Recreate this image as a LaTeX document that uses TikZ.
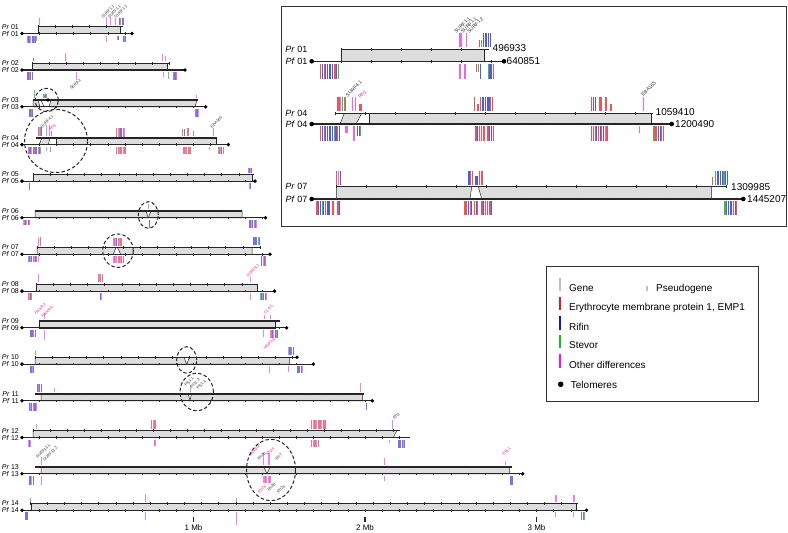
\documentclass[tikz,border=0pt]{standalone}
\usepackage{fontspec}
\setmainfont{Liberation Sans}
\definecolor{cE}{RGB}{236,118,128}
\definecolor{cR}{RGB}{112,118,226}
\definecolor{cS}{RGB}{110,192,110}
\definecolor{cM}{RGB}{236,130,236}
\definecolor{dE}{RGB}{228,88,92}
\definecolor{dR}{RGB}{80,90,218}
\definecolor{dS}{RGB}{80,180,80}
\definecolor{dM}{RGB}{232,105,232}
\definecolor{cG}{RGB}{192,192,192}
\definecolor{tM}{RGB}{228,40,150}
\definecolor{boxg}{RGB}{221,221,221}
\definecolor{LE}{RGB}{225,25,25}
\definecolor{LR}{RGB}{20,20,215}
\definecolor{LS}{RGB}{30,185,30}
\definecolor{LM}{RGB}{240,20,240}
\newcommand\gBars[4]{\foreach \cc [count=\ii from 0] in {#4}{\draw[bar,draw=c\cc] ({#1+\ii*1.25},#2) -- ({#1+\ii*1.25},#3);}}
\newcommand\iBars[4]{\foreach \cc [count=\ii from 0] in {#4}{\draw[ibar,draw=d\cc] ({#1+\ii*1.7},#2) -- ({#1+\ii*1.7},#3);}}
\newcommand\gTicks[4]{\pgfmathtruncatemacro{\ntk}{(#2-#1)/#4}\foreach \kk in {0,...,\ntk}{\draw[tck] ({#1+\kk*#4},{#3-1.3}) -- ({#1+\kk*#4},{#3+1.3});}}
\newcommand\gChr[3]{\draw[chr] (#1,#3) -- (#2,#3); \gTicks{#1}{#2}{#3}{17.15}}
\newcommand\iChr[3]{\draw[ichr] (#1,#3) -- (#2,#3); \gTicks{#1}{#2}{#3}{30}}
\newcommand\gPoly[6]{\filldraw[gbox] (#1,#5) -- (#2,#5) -- (#3,#6) -- (#4,#6) -- cycle;}
\newcommand\gTel[2]{\fill[black] (#1,#2) circle (1.9pt);}
\newcommand\iTel[2]{\fill[black] (#1,#2) circle (2.3pt);}
\begin{document}
\begin{tikzpicture}[x=1pt,y=-1pt,
  chr/.style={line width=1.15pt, draw=black!85},
  ichr/.style={line width=1.2pt, draw=black!85},
  tck/.style={line width=0.45pt, draw=black!85},
  gbox/.style={fill=boxg, draw=black!85, line width=0.5pt},
  bar/.style={line width=0.7pt},
  ibar/.style={line width=1.05pt},
  circ/.style={draw=black!85, line width=1pt, dash pattern=on 3.5pt off 2.2pt},
  lab/.style={font=\fontsize{7}{7}\selectfont, anchor=east, inner sep=0pt},
  ilab/.style={font=\fontsize{9}{9}\selectfont, anchor=east, inner sep=0pt},
  num/.style={font=\fontsize{10}{10}\selectfont, anchor=west, inner sep=0pt},
  gk/.style={font=\fontsize{4}{4}\selectfont, rotate=45, inner sep=0pt, text=black!80},
  gm/.style={gk, text=tM},
  gki/.style={font=\fontsize{5}{5}\selectfont, rotate=45, inner sep=0pt, text=black!80},
  gmi/.style={gki, text=tM},
  leg/.style={font=\fontsize{10}{10}\selectfont, anchor=base west, inner sep=0pt},
  lbar/.style={line width=2.3pt},
  ax/.style={font=\fontsize{8}{8}\selectfont, inner sep=0pt}
]
\useasboundingbox (0,0) rectangle (788,533);
\fill[white] (0,0) rectangle (788,533);

% ---------- row labels ----------
\foreach \n/\y in {01/26.7,02/63.2,03/100,04/138,05/174.3,06/211,07/247.5,08/284.3,09/321,10/357.3,11/394,12/430.7,13/467,14/503.5}{
  \node[lab] (pr\n) at (19,\y) {\textit{Pr} \n};
  \node[lab] (pf\n) at (19,\y+6.8) {\textit{Pf} \n};
}

% ---------- row 1 ----------
\gPoly{38}{120}{120}{38}{26.7}{33.5}
\gChr{38}{123}{26.7}
\gChr{22}{131.9}{33.5}
\gTel{22}{33.5}\gTel{131.9}{33.5}
\gBars{39.3}{18}{24.5}{M}
\gBars{106.7}{17}{24.5}{M}\gBars{110}{17}{24.5}{M}\gBars{115}{18}{24.5}{M}
\gBars{119.5}{18}{24.5}{R,E,R,R}
\gBars{27}{35.5}{43}{E,R,R,M,R,R,E,R}\gBars{36.5}{35.5}{41}{S}
\gBars{106.7}{35.5}{42}{M}\gBars{117}{35.5}{40}{E,R}\gBars{123}{35.5}{42}{R,S,R}
\node[gk,anchor=west] (g1a) at (102,17.5) {SURF1.1};
\node[gk,anchor=west] (g1b) at (108.5,17.5) {SURF1.1};
\node[gk,anchor=west] (g1c) at (115,17.5) {SURF1.2};

% ---------- row 2 ----------
\gPoly{32}{167}{167}{32}{63.2}{70}
\gChr{32}{170}{63.2}
\gChr{22}{185}{70}
\gTel{22}{70}\gTel{185}{70}
\gBars{33.3}{58}{61.2}{R}\gBars{65}{53}{61.2}{M}\gBars{162.3}{54}{61.2}{M}\gBars{165.7}{56}{61.2}{M}
\gBars{27}{72}{80}{R,R,E,R,R}\gBars{76}{72}{80}{M}\gBars{163}{72}{77}{M}\gBars{168}{72}{79}{S}\gBars{173}{72}{80}{E,R,R,E}
\node[gk,anchor=east] (g2a) at (80,79.5) {SERA3};

% ---------- row 3 ----------
\gPoly{33}{38}{40}{33}{100}{106.8}
\draw[tck] (41,100) -- (44,106.8);
\gPoly{51}{197}{195}{49}{100}{106.8}
\gChr{33}{198}{100}
\gChr{22}{205.6}{106.8}
\gTel{48}{100}
\gTel{22}{106.8}\gTel{205.6}{106.8}
\gBars{34.3}{90}{98}{S}\gBars{43}{94}{98}{E,S,R,S}\gBars{196.7}{95}{98}{M}
\gBars{29}{109}{116.7}{R,R,E,R}\gBars{195}{109}{117}{E,R,R,M}

% ---------- row 4 ----------
\gPoly{41.7}{50}{48.3}{39.3}{138}{144.6}
\gPoly{56}{216.7}{216.7}{56}{138}{144.6}
\gChr{36}{217}{138}
\gChr{22}{228.3}{144.6}
\gTel{22}{144.6}\gTel{228.3}{144.6}
\gBars{38}{127}{136}{E,M,S,R}\gBars{46.7}{125}{136}{M}\gBars{49.3}{125}{136}{M}\gBars{51.7}{131}{136}{E}
\gBars{116.7}{128}{136.5}{E,M,E,R,R,E,M}
\gBars{182.7}{129}{136}{E,R}\gBars{187}{128}{136}{E,E}\gBars{193}{131}{136}{E}
\gBars{213.3}{128}{136}{M}
\gBars{28}{146.6}{153.5}{E,R,R,M,R,E,R,R,E,R,S}\gBars{46.7}{146.6}{151}{M}\gBars{50.7}{146.6}{152}{S}
\gBars{116.7}{146.6}{153.5}{E,E,M,E,E,M,E,E}\gBars{183}{146.6}{153.5}{E,E,M,E,E,E,E}
\gBars{209.3}{146.6}{150}{M}\gBars{218}{146.6}{153.5}{S,E,M,R,E}
\node[gk,anchor=west] (g4a) at (41,127.5) {SURF4.1};
\node[gm,anchor=west] (g4b) at (50,130) {Rh1};
\node[gk,anchor=west] (g4c) at (211,127.5) {EBA165};

% ---------- row 5 ----------
\gPoly{33}{252.5}{252.5}{33}{174.3}{181.1}
\gChr{33}{254}{174.3}
\gChr{22}{255}{181.1}
\gTel{22}{181.1}\gTel{255}{181.1}
\gBars{248}{168}{172.5}{E,R,M,R}
\gBars{29.3}{183}{190}{R}\gBars{249.3}{183}{189}{M,R}

% ---------- row 6 ----------
\gPoly{35}{146}{148.3}{35}{211}{217.8}
\gPoly{151}{242}{242}{148.3}{211}{217.8}
\gChr{35}{242}{211}
\gChr{22}{265.5}{217.8}
\gTel{22}{217.8}\gTel{265.5}{217.8}
\gBars{148.3}{204}{209}{M}
\gBars{23}{219.8}{225}{M,E,R,M,R,E}\gBars{149.3}{219.8}{228}{R}\gBars{249}{219.8}{228}{R,R,M,R,E,R,M}

% ---------- row 7 ----------
\gPoly{37}{116}{113.3}{37}{247.5}{254.3}
\gPoly{117.5}{252}{252}{120.7}{247.5}{254.3}
\gChr{37}{260}{247.5}
\gChr{22}{270}{254.3}
\gTel{22}{254.3}\gTel{270}{254.3}
\gBars{38.7}{237}{245.5}{M,E}\gBars{113}{238}{245.5}{M,E,M,R,E,M,E,E}\gBars{253}{237}{245}{R,R,R,R,S,R}
\gBars{28}{256.3}{262}{S,R,M,R,E,M,R,E,M}\gBars{113}{256.3}{263}{M,E,M,M,E,E,M,E,E}\gBars{261.7}{256.3}{266}{R,M,R,E}

% ---------- row 8 ----------
\gPoly{36}{257}{257}{36}{284.3}{291.1}
\gChr{36}{258}{284.3}
\gChr{22}{274.5}{291.1}
\gTel{22}{291.1}\gTel{274.5}{291.1}
\gBars{38.7}{274}{282.3}{M}\gBars{98.3}{274}{282.3}{E,M,E,E}\gBars{250.7}{277}{282.3}{M}
\gBars{28}{293}{300}{E,M,R,E}\gBars{100}{293}{300}{R,M}\gBars{250.7}{293}{300}{M}\gBars{260}{293}{300}{S,R,S,R,R,M}
\node[gm,anchor=west] (g8a) at (247,276.5) {SURF8.2};

% ---------- row 9 ----------
\gPoly{39}{275}{275}{39}{321}{327.8}
\gChr{39}{280}{321}
\gChr{22}{286.6}{327.8}
\gTel{22}{327.8}\gTel{286.6}{327.8}
\gBars{44.3}{312.7}{319}{M}\gBars{264}{315}{319}{M}\gBars{270.7}{315}{319}{M}
\gBars{30}{329.8}{337}{R,R,R,E,R}\gBars{44.3}{329.8}{340}{M}\gBars{263.3}{329.8}{337}{M}\gBars{270}{329.8}{338}{M,E,R,M,R,E,R}
\node[gm,anchor=west] (g9a) at (35,314) {FIKK9.2};
\node[gm,anchor=west] (g9b) at (42,317) {FIKK9.5};
\node[gm,anchor=west] (g9c) at (264.5,313.5) {CLAG};
\node[gm,anchor=east] (g9d) at (274.5,338.5) {MSP3.8};

% ---------- row 10 ----------
\gPoly{35}{184}{186.7}{35}{357.3}{364.1}
\gPoly{189.5}{289.3}{289.3}{186.7}{357.3}{364.1}
\gChr{35}{297}{357.3}
\gChr{22}{313.3}{364.1}
\gTel{297}{357.3}
\gTel{22}{364.1}\gTel{313.3}{364.1}
\gBars{35}{350.7}{355.3}{S}\gBars{288}{346.7}{355.3}{M,R,R,S,R}
\gBars{30}{366.1}{372.7}{R,R,M,R}\gBars{269.3}{366.1}{373.3}{M}\gBars{288.3}{366.1}{372}{M}\gBars{297.3}{366.1}{373}{R,R,R,R,M}

% ---------- row 11 ----------
\gPoly{41}{188.3}{190}{41}{394}{400.8}
\gPoly{191.5}{362.7}{362.7}{190}{394}{400.8}
\gChr{35}{364}{394}
\gChr{22}{372.3}{400.8}
\gTel{22}{400.8}\gTel{372.3}{400.8}
\gBars{37.3}{384}{392}{R,E,R,R}\gBars{54.3}{388}{392}{M}\gBars{190}{385}{392}{M}\gBars{360.7}{383.3}{392}{M}
\gBars{29.3}{402.8}{410.7}{R,M,R,E,R,R,M}\gBars{366.7}{402.8}{410}{R}
\node[gk,anchor=west] (g11a) at (185,386) {Pf11.1};
\node[gk,anchor=west] (g11b) at (191,387.5) {Pf11.2};
\node[gk,anchor=west] (g11c) at (197,389) {Pf11.3};

% ---------- row 12 ----------
\gPoly{33}{396.7}{393.3}{33}{430.7}{437.5}
\gChr{33}{400}{430.7}
\gChr{22}{410}{437.5}
\gTel{22}{437.5}
\gBars{36}{424}{428.7}{M}\gBars{151.7}{420}{428.7}{E,M,E,E}\gBars{311.7}{420}{428.7}{E,M,E,E,M,E,E,E,M,E,E,E}\gBars{392.3}{420}{428.7}{M}
\gBars{28}{439.5}{446.7}{M,R,M}\gBars{154}{439.5}{446}{E,M}\gBars{311.7}{439.5}{446.7}{E,M,E,E,M,E}\gBars{389.3}{439.5}{443}{M}\gBars{398.3}{439.5}{448.3}{R,R,R,R,M,R}
\node[gk,anchor=west] (g12a) at (393.5,419) {Rh3};
\node[gk,anchor=west] (g12b) at (36.5,458) {SURF13.1};
\node[gk,anchor=west] (g12c) at (43.5,460.5) {SURF13.2};

% ---------- row 13 ----------
\gPoly{41}{264}{267}{41}{467}{473.8}
\gPoly{270}{509.3}{509.3}{267}{467}{473.8}
\gChr{35}{511.7}{467}
\gChr{22}{522.7}{473.8}
\gTel{22}{473.8}\gTel{522.7}{473.8}
\gBars{41.7}{456.7}{465}{M}\gBars{263.3}{453}{465}{M}\gBars{268.3}{453}{465}{M,M}\gBars{384.3}{458}{465}{M}\gBars{505.7}{460.7}{465}{M}
\gBars{29.3}{475.8}{485}{R,R,M,R}\gBars{41.7}{475.8}{485}{M}\gBars{263}{475.8}{483}{M,M,E,M,M,E,M}\gBars{384.3}{475.8}{481}{M}\gBars{510}{475.8}{485}{R,R,R}
\node[gm,anchor=west] (g13a) at (249.5,456) {MSRP2};
\node[gk,anchor=west] (g13b) at (258,459.5) {Rh2b};
\node[gm,anchor=west] (g13c) at (266.5,455) {Rh2a};
\node[gk,anchor=west] (g13d) at (276,459.5) {Rh7};
\node[gm,anchor=east] (g13e) at (265.5,485.5) {Rh2a};
\node[gk,anchor=east] (g13f) at (275,483.5) {Rh2b};
\node[gk,anchor=east] (g13g) at (284.5,485.5) {Rh2a};
\node[gm,anchor=west] (g13h) at (503,455) {EBL1};

% ---------- row 14 ----------
\gPoly{31.7}{576}{576}{31.7}{503.5}{510.3}
\gChr{30}{578}{503.5}
\gChr{22}{586.5}{510.3}
\gTel{22}{510.3}\gTel{586.5}{510.3}
\gBars{30}{498}{501.5}{S}\gBars{145.7}{494}{501.5}{M}\gBars{236.7}{498}{501.5}{M}\gBars{555}{495}{501.5}{M,M}\gBars{573.3}{495}{501.5}{M,M}
\gBars{25}{512.3}{520}{R,R,R}\gBars{145.7}{512.3}{520}{M}\gBars{236.7}{512.3}{525}{M}\gBars{555}{512.3}{517}{M}\gBars{573.3}{512.3}{517}{M}\gBars{581.7}{512.3}{520}{R,R,S}

% ---------- dashed circles ----------
\draw[circ] (46.7,100) ellipse [x radius=11.7pt, y radius=11.7pt];
\draw[circ] (56,141) ellipse [x radius=31.5pt, y radius=31.5pt];
\draw[circ] (148.3,215) ellipse [x radius=10pt, y radius=13.3pt];
\draw[circ] (118,250.7) ellipse [x radius=15.3pt, y radius=16.7pt];
\draw[circ] (186.7,360) ellipse [x radius=10pt, y radius=13.3pt];
\draw[circ] (196.7,392) ellipse [x radius=16.7pt, y radius=18.7pt];
\draw[circ] (271,470) ellipse [x radius=24.5pt, y radius=30.7pt];

% ---------- axis ----------
\foreach \xx/\t in {193.5/1,365/2,536.5/3}{
  \draw[line width=1.4pt, black!85] (\xx,516.5) -- (\xx,521.7);
  \node[ax] (mb\t) at (\xx,527.8) {\t\ Mb};
}

% ---------- inset ----------
\draw[line width=1pt, black!80] (281,6.5) rectangle (786,226.5);
% inset row 01
\node[ilab] (ipr01) at (307.5,49.3) {\textit{Pr} 01};
\node[ilab] (ipf01) at (307.5,61.3) {\textit{Pf} 01};
\gPoly{341.7}{484}{484}{341.7}{49.3}{61.3}
\iChr{341.7}{489.3}{49.3}
\iChr{311.7}{504}{61.3}
\iTel{311.7}{61.3}\iTel{504}{61.3}
\node[num] (n1a) at (492.5,48.5) {496933};
\node[num] (n1b) at (506.5,61.3) {640851};
\iBars{460}{33}{47.3}{M,M}\iBars{466.7}{33}{47.3}{M}\iBars{479.5}{40}{47.3}{E,S}\iBars{483.5}{33}{47.3}{R,R,R,R,R}
\iBars{320.7}{64}{79.3}{E,R,E,R,R,R,R,R}\iBars{335}{64}{79.3}{E,R,S}\iBars{460}{64}{79.3}{M}\iBars{465}{64}{79.3}{M}
\iBars{476.7}{64}{72}{E,S}\iBars{480.5}{64}{79.3}{R}\iBars{488.3}{64}{79.3}{S,R,R,E}
\node[gki,anchor=west] (i1a) at (455,32.5) {SURF1.1};
\node[gki,anchor=west] (i1b) at (461.5,32.5) {SURF1.1};
\node[gki,anchor=west] (i1c) at (468,32.5) {SURF1.2};
% inset row 04
\node[ilab] (ipr04) at (307.5,113.3) {\textit{Pr} 04};
\node[ilab] (ipf04) at (307.5,124) {\textit{Pf} 04};
\gPoly{344.3}{361.7}{356}{340}{113.3}{124}
\gPoly{369.3}{651.7}{651.7}{369.3}{113.3}{124}
\iChr{335}{652.8}{113.3}
\iChr{311.7}{671.7}{124}
\iTel{311.7}{124}\iTel{671.7}{124}
\node[num] (n4a) at (655.5,112.5) {1059410};
\node[num] (n4b) at (675,124) {1200490};
\iBars{337.3}{96.7}{111.3}{E,E,M,S,S,E}\iBars{352.7}{96.7}{111.3}{M}\iBars{355.5}{96.7}{111.3}{M}\iBars{360}{104}{111.3}{E,E}
\iBars{474.3}{96.7}{111.3}{E}\iBars{478}{104}{111.3}{E}\iBars{480.5}{96.7}{111.3}{E,R,R,R,R,R,E,E}
\iBars{591.7}{96.7}{111.3}{E,R,R}\iBars{600}{96.7}{111.3}{E,E}\iBars{606}{96.7}{111.3}{E}\iBars{611}{104}{111.3}{E}
\iBars{643.3}{96.7}{111.3}{M}
\iBars{320.7}{126}{141}{E,R,E,R,R,R,R,R,S,R,E,R}\iBars{346}{126}{133}{M,M}\iBars{354}{126}{141}{M}\iBars{357.5}{126}{136}{R,R,S}
\iBars{476}{126}{141}{E,R,E,E}\iBars{484}{126}{141}{E}\iBars{488}{126}{141}{E,R,R,E}
\iBars{591.7}{126}{141}{E,E,E,R,E,R,E,R,M,E}\iBars{639.3}{126}{133}{M}\iBars{653.3}{126}{141}{S,E,E,R,R,E,E}
\node[gki,anchor=west] (i4a) at (346.5,96) {SURF4.1};
\node[gmi,anchor=west] (i4b) at (359,97.5) {Rh1};
\node[gki,anchor=west] (i4c) at (642,95.5) {EBA165};
% inset row 07
\node[ilab] (ipr07) at (307.5,186.7) {\textit{Pr} 07};
\node[ilab] (ipf07) at (307.5,199) {\textit{Pf} 07};
\gPoly{336.7}{471.7}{470}{336.7}{186.7}{199}
\gPoly{478.3}{711.7}{711.7}{481.7}{186.7}{199}
\iChr{336}{727}{186.7}
\iChr{311.7}{743.3}{199}
\iTel{311.7}{199}\iTel{743.3}{199}
\node[num] (n7a) at (731,186.7) {1309985};
\node[num] (n7b) at (747,199) {1445207};
\iBars{336.7}{170.7}{184.7}{E,M,R}\iBars{469}{170.7}{184.7}{R,E,E}\iBars{476}{176}{184.7}{R,R}\iBars{479.5}{170.7}{184.7}{E,E,E}
\iBars{712.7}{177}{184.7}{E}\iBars{715.5}{170.7}{184.7}{S,R,R,R,R,S,R,R}
\iBars{317}{201}{215.3}{E,R,R,S,R,E}\iBars{328}{201}{215.3}{R,R}\iBars{333}{201}{215.3}{E}\iBars{338}{201}{215.3}{E,R}
\iBars{465}{201}{215.3}{E,E,R,E,R}\iBars{474.5}{201}{215.3}{E,R,E}\iBars{482}{201}{215.3}{E,R,E,E}\iBars{490}{201}{215.3}{E,R}
\iBars{725}{201}{215.3}{S,R,R,R,R,E,R,E}

% ---------- legend ----------
\draw[line width=1pt, black!80] (546.7,266) rectangle (758.3,401);
\draw[lbar, draw=cG] (560,278.3) -- (560,291);
\node[leg] (lgene) at (569,291.3) {Gene};
\draw[lbar, draw=cG] (647.3,285.7) -- (647.3,291);
\node[leg] (lpseudo) at (656,291.3) {Pseudogene};
\draw[lbar, draw=LE] (560,296.7) -- (560,310);
\node[leg] (lemp) at (569,310.3) {Erythrocyte membrane protein 1, EMP1};
\draw[lbar, draw=LR] (560,315.7) -- (560,330);
\node[leg] (lrif) at (569,330.3) {Rifin};
\draw[lbar, draw=LS] (560,335) -- (560,348.3);
\node[leg] (lstev) at (569,348.6) {Stevor};
\draw[lbar, draw=LM] (560,354.3) -- (560,367.7);
\node[leg] (loth) at (569,368) {Other differences};
\fill[black] (560.7,384.3) circle (2.8pt);
\node[leg] (ltel) at (570.7,388) {Telomeres};
\end{tikzpicture}
\end{document}
